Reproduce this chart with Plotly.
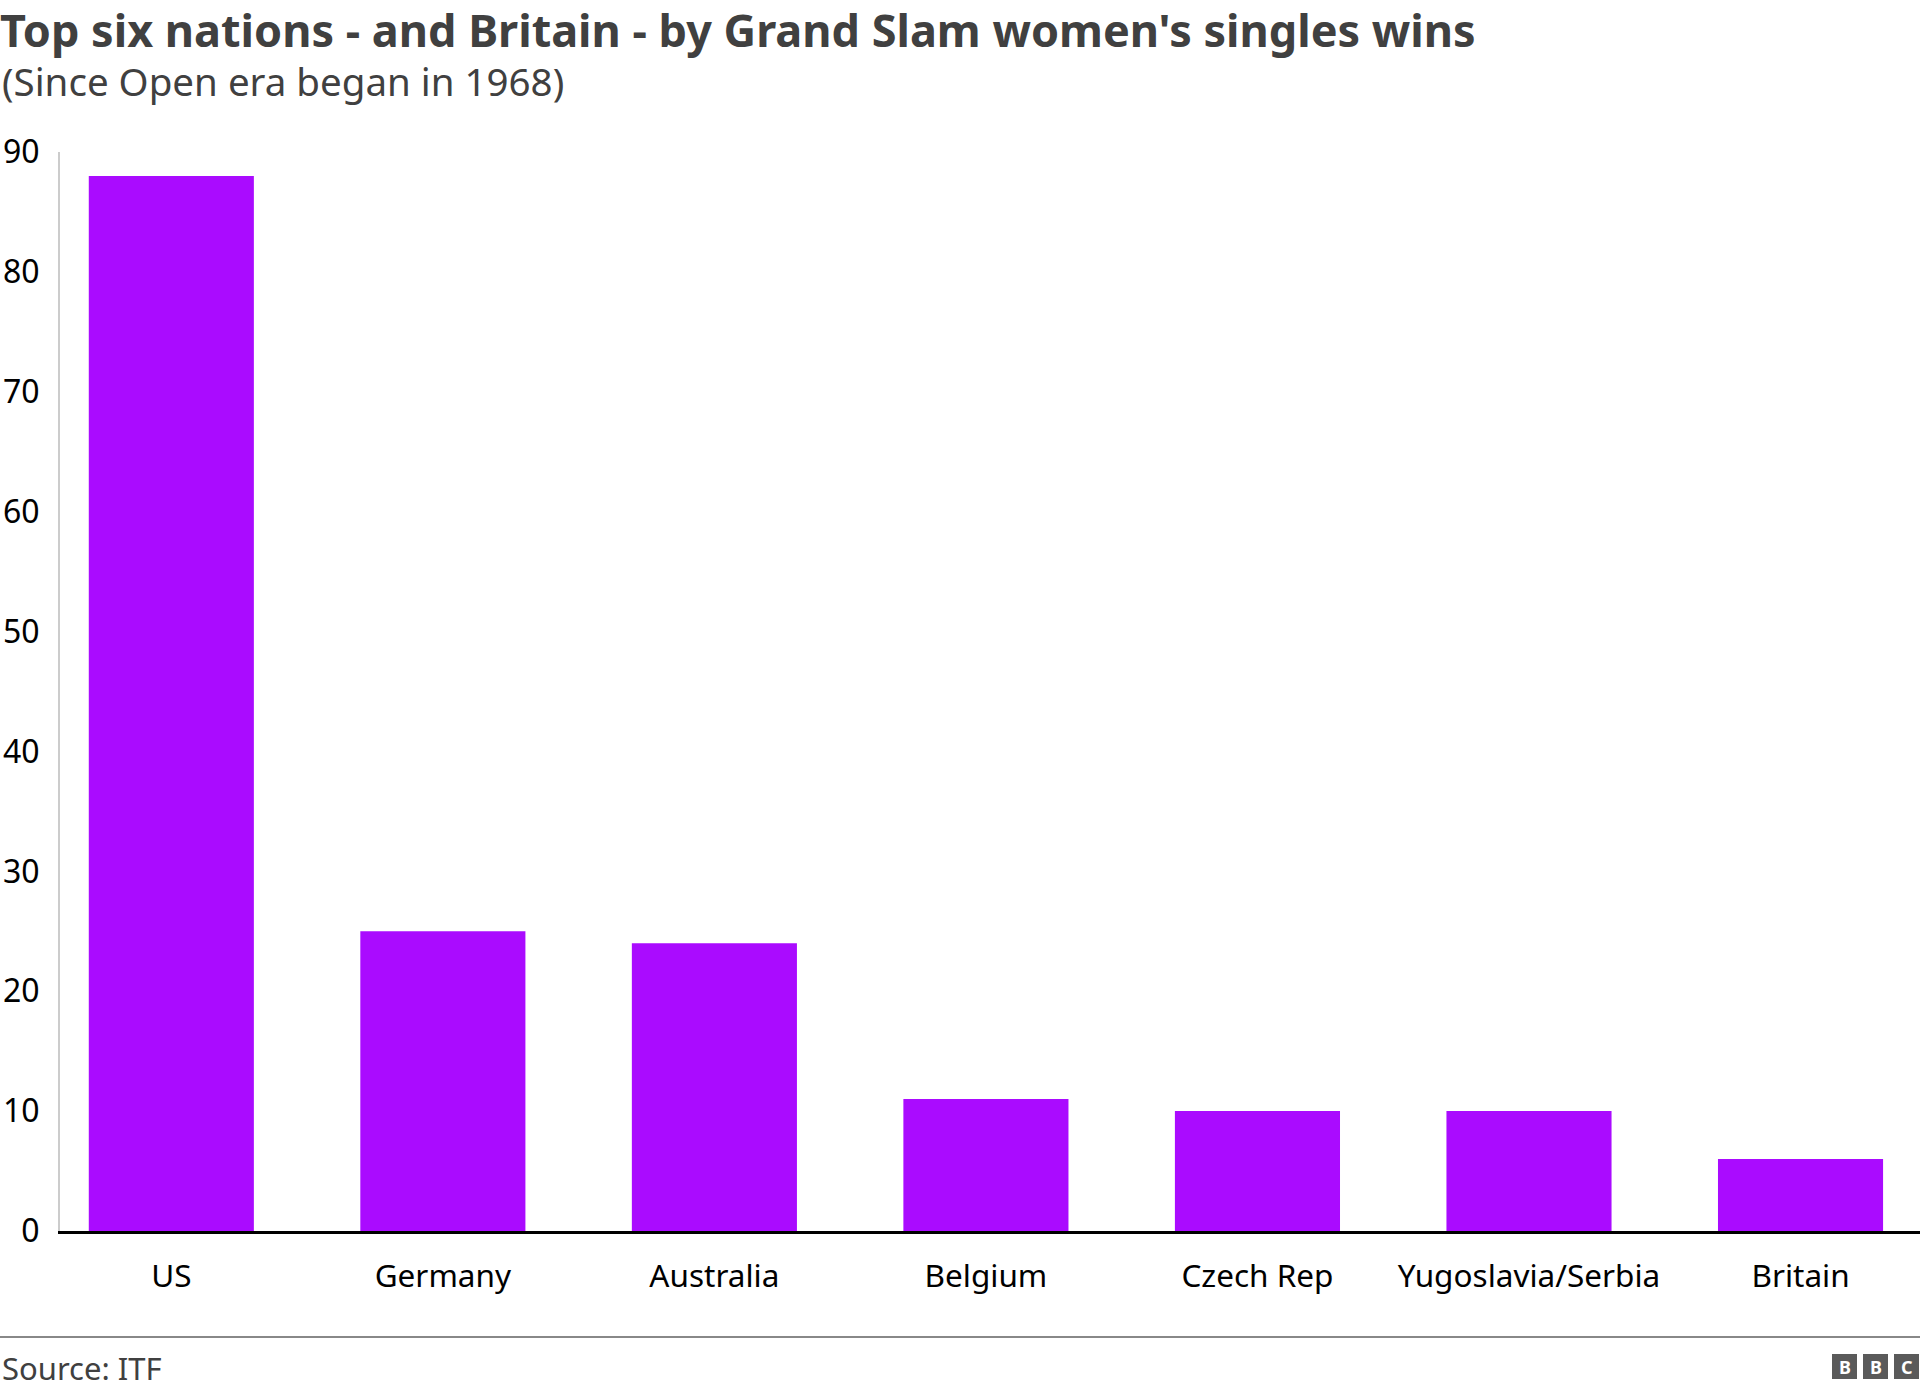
import plotly.graph_objects as go

countries = ["US", "Germany", "Australia", "Belgium", "Czech Rep", "Yugoslavia/Serbia", "Britain"]
wins = [88, 25, 24, 11, 10, 10, 6]
y_ticks = [0, 10, 20, 30, 40, 50, 60, 70, 80, 90]

W, H = 1920, 1392
L, R, T, B = 60, 0, 152, 161
PH = H - T - B
PW = W - L - R

def py(px):
    return (H - B - px) / PH

def pxx(px):
    return (px - L) / PW

FONT = "Noto Sans"

fig = go.Figure(go.Bar(
    x=countries, y=wins,
    marker=dict(color="#AA0BFF", line=dict(width=0)),
    width=0.608,
    hoverinfo="x+y",
))

fig.update_layout(
    width=W, height=H,
    margin=dict(l=L, r=R, t=T, b=B, pad=0),
    paper_bgcolor="white", plot_bgcolor="white",
    showlegend=False,
    font=dict(family=FONT, color="#000000"),
    title=dict(
        text="<b>Top six nations - and Britain - by Grand Slam women's singles wins</b>",
        font=dict(family=FONT, size=45, color="#404040"),
        xref="container", yref="container", x=0, xanchor="left",
        y=1 - 31 / H, yanchor="middle",
    ),
    xaxis=dict(
        range=[-0.41, 6.44],
        showgrid=False, zeroline=False,
        showline=True, linecolor="#000000", linewidth=3,
        ticks="", tickfont=dict(family=FONT, size=31.5, color="#000000"),
        ticklabelstandoff=15,
        fixedrange=True,
    ),
    yaxis=dict(
        range=[0, 90],
        tickvals=y_ticks,
        showgrid=False, zeroline=False,
        showline=True, linecolor="#cccccc", linewidth=2,
        ticks="", tickfont=dict(family=FONT, size=32, color="#000000"),
        ticklabelstandoff=12,
        fixedrange=True,
    ),
    annotations=[
        dict(text="(Since Open era began in 1968)", xref="paper", yref="paper",
             x=pxx(0), y=py(81), xanchor="left", yanchor="middle", showarrow=False,
             font=dict(family=FONT, size=38.5, color="#404040")),
        dict(text="Source: ITF", xref="paper", yref="paper",
             x=pxx(0), y=py(1368), xanchor="left", yanchor="middle", showarrow=False,
             font=dict(family=FONT, size=31, color="#404040")),
    ],
    shapes=[
        dict(type="line", xref="paper", yref="paper", x0=pxx(0), x1=1,
             y0=py(1337), y1=py(1337), line=dict(color="#888888", width=2)),
    ],
)

# BBC logo blocks
for i, letter in enumerate(["B", "B", "C"]):
    x0 = 1832 + i * 31
    fig.add_shape(type="rect", xref="paper", yref="paper",
                  x0=pxx(x0), x1=pxx(x0 + 25), y0=py(1379), y1=py(1354),
                  fillcolor="#5a5a5a", line=dict(width=0))
    fig.add_annotation(text="<b>%s</b>" % letter, xref="paper", yref="paper",
                       x=pxx(x0 + 12.5), y=py(1366.5), xanchor="center", yanchor="middle",
                       showarrow=False, font=dict(family=FONT, size=18, color="white"))

fig.write_html("out.html", config={"displayModeBar": False})
